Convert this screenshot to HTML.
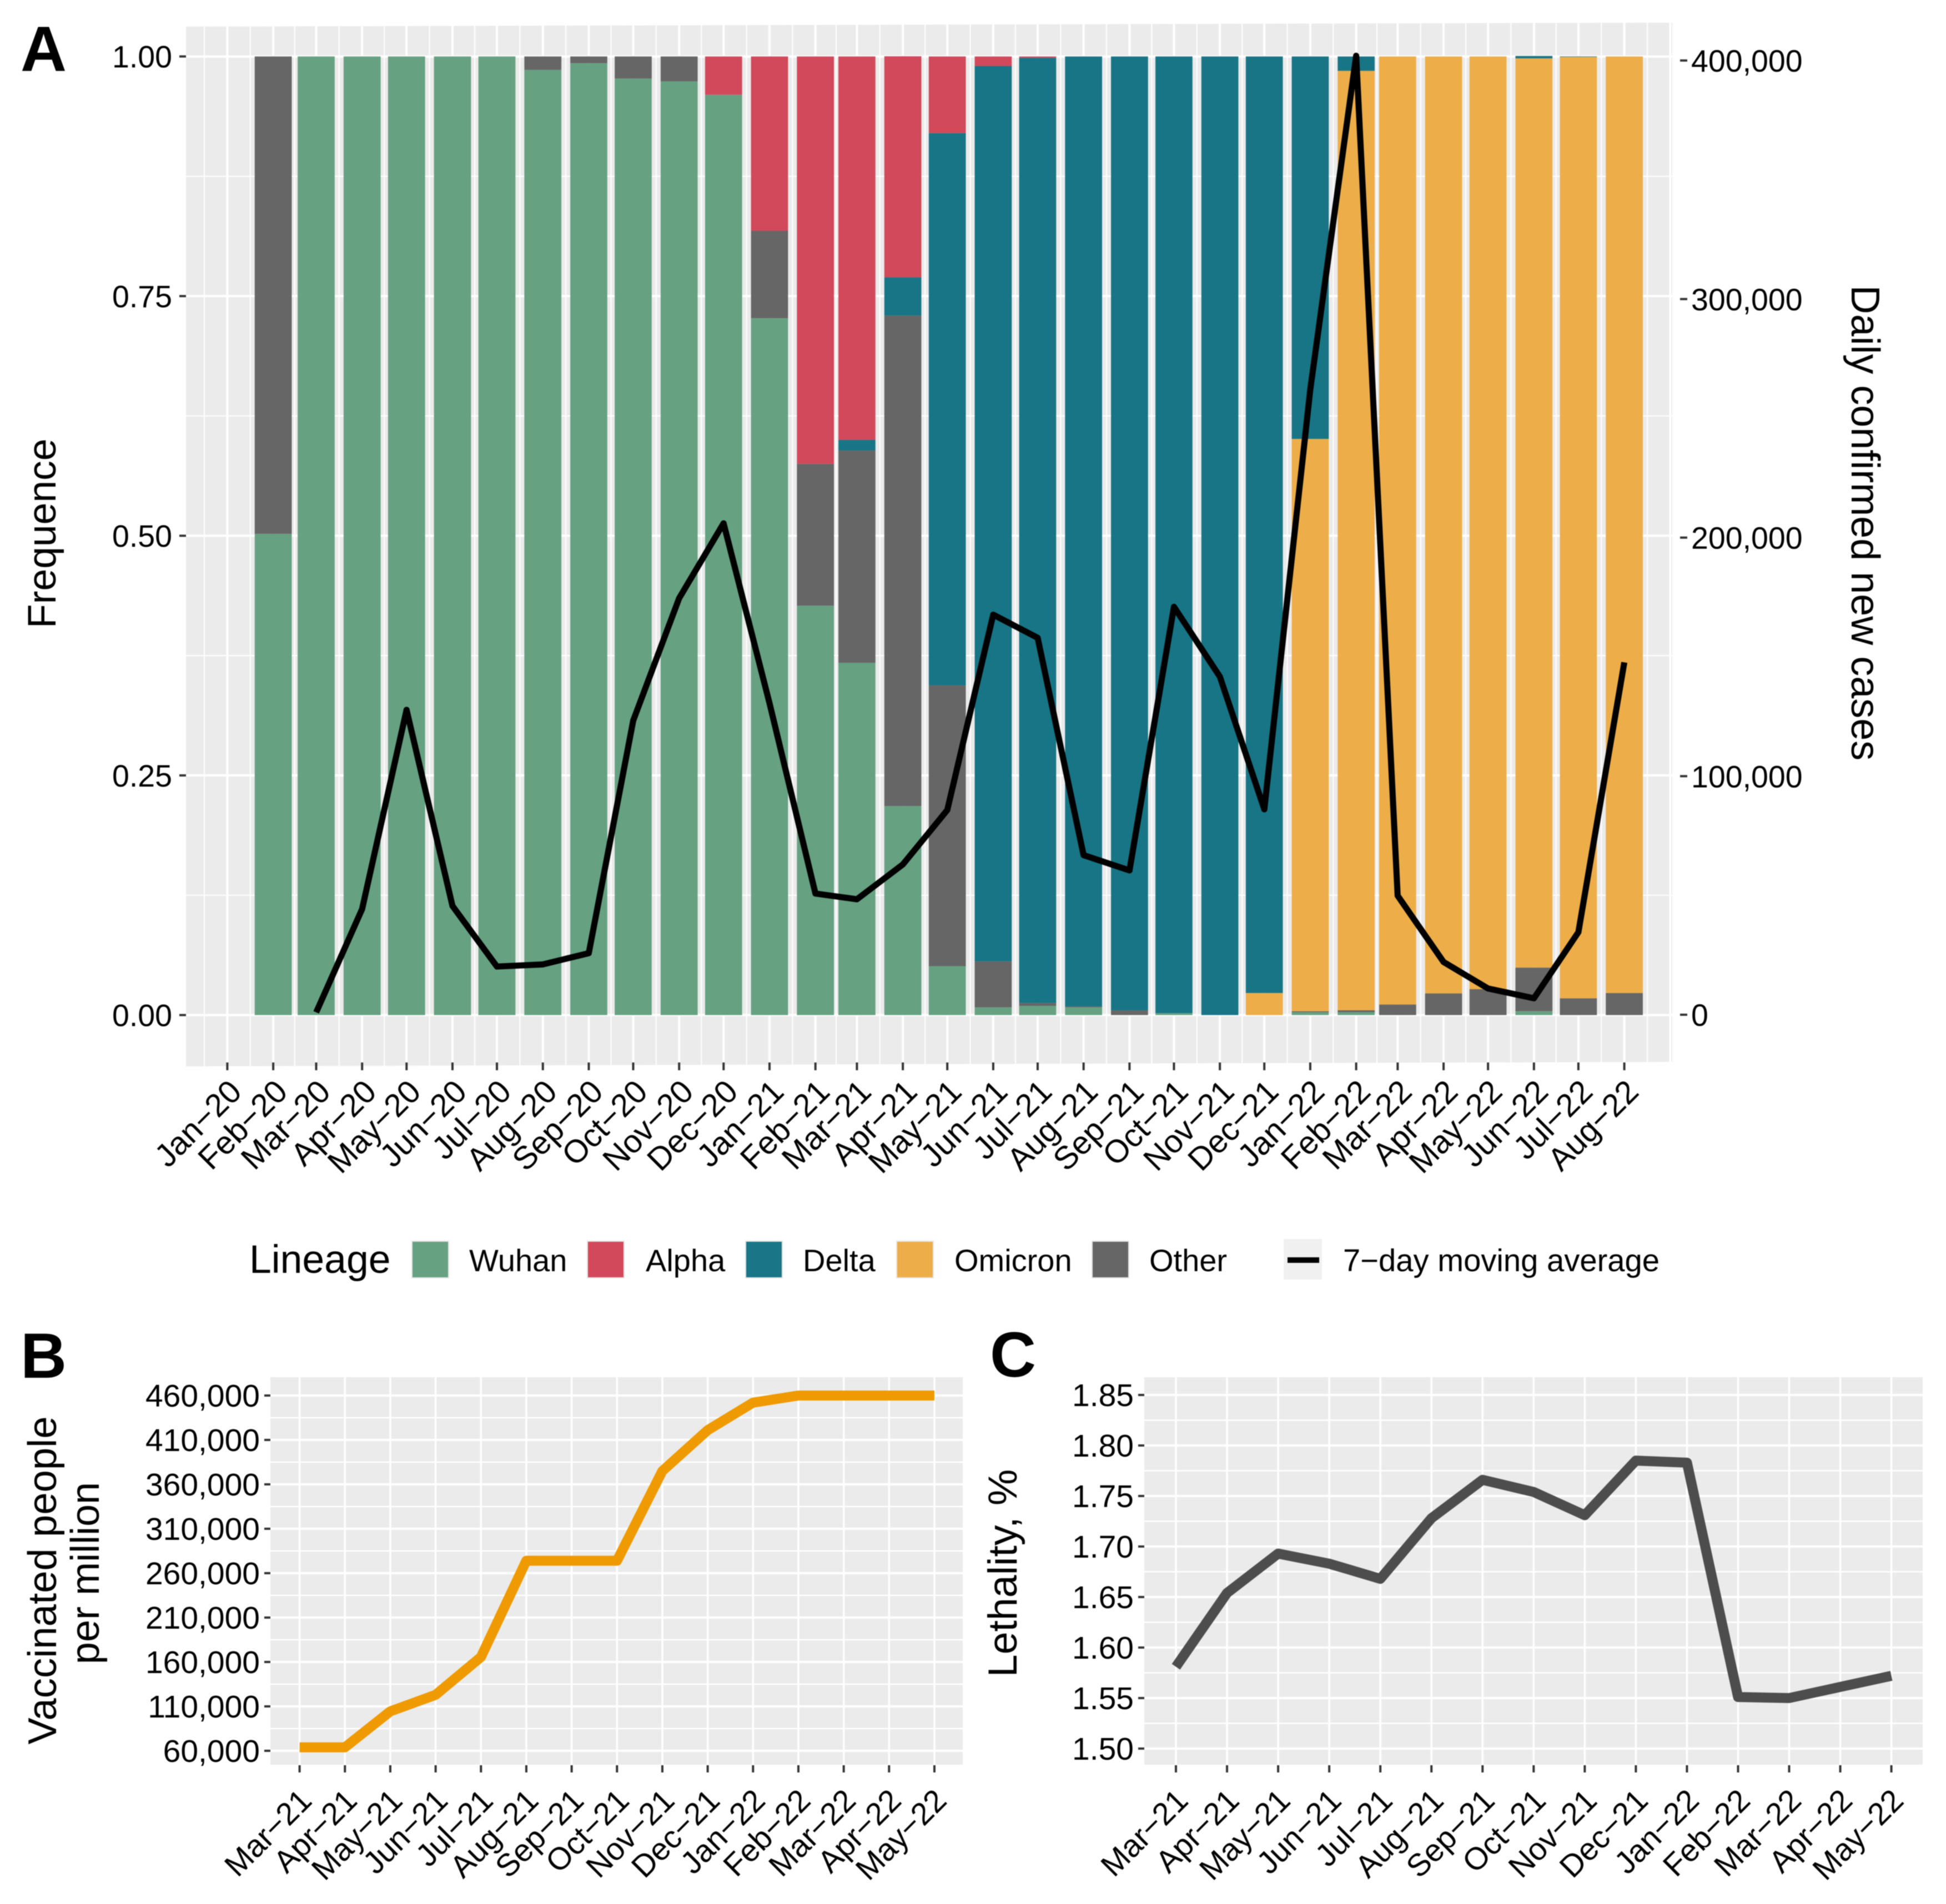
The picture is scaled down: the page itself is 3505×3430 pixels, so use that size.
<!DOCTYPE html>
<html lang="en">
<head>
<meta charset="utf-8">
<title>SARS-CoV-2 lineages, vaccination and lethality</title>
<style>
html,body{margin:0;padding:0;background:#fff;}
svg{display:block;filter:blur(0.8px);}
text{font-family:"Liberation Sans",sans-serif;fill:#000;}
</style>
</head>
<body>
<svg id="figure" xmlns="http://www.w3.org/2000/svg" width="3505" height="3430" viewBox="0 0 3505 3430">
<defs><clipPath id="clip-a"><polygon points="335,48 3012,40.7 3012,1913 335,1921"/></clipPath></defs>
<rect x="0" y="0" width="3505" height="3430" fill="#fff"/>
<polygon points="335,48 3012,40.7 3012,1913 335,1921" fill="#ebebeb"/>
<g id="grid-a" clip-path="url(#clip-a)"></g>
<g id="bars-a"></g>
<g id="line-a"></g>
<g id="axes-a"></g>
<text x="37" y="128" font-size="115" font-weight="bold">A</text>
<text x="37" y="2482" font-size="115" font-weight="bold">B</text>
<text x="1783" y="2480" font-size="115" font-weight="bold">C</text>
<text transform="translate(100,961) rotate(-90)" text-anchor="middle" font-size="71.5">Frequence</text>
<text transform="translate(3335,942) rotate(90)" text-anchor="middle" font-size="72">Daily confirmed new cases</text>
<g id="legend">
<text x="449" y="2293" font-size="71.5">Lineage</text>
<rect x="742" y="2236" width="66" height="66" fill="#66a182" stroke="#e6e6e6" stroke-width="2"/>
<text x="845" y="2290" font-size="56">Wuhan</text>
<rect x="1058" y="2236" width="66" height="66" fill="#d1495b" stroke="#e6e6e6" stroke-width="2"/>
<text x="1163" y="2290" font-size="56">Alpha</text>
<rect x="1343" y="2236" width="66" height="66" fill="#1a7586" stroke="#e6e6e6" stroke-width="2"/>
<text x="1446" y="2290" font-size="56">Delta</text>
<rect x="1615" y="2236" width="66" height="66" fill="#edae49" stroke="#e6e6e6" stroke-width="2"/>
<text x="1719" y="2290" font-size="56">Omicron</text>
<rect x="1967" y="2236" width="66" height="66" fill="#666666" stroke="#e6e6e6" stroke-width="2"/>
<text x="2070" y="2290" font-size="56">Other</text>
<rect x="2312" y="2232" width="69" height="73" fill="#f0f0f0"/>
<line x1="2319" x2="2376" y1="2270" y2="2270" stroke="#000" stroke-width="10"/>
<text x="2419" y="2290" font-size="56.2">7−day moving average</text>
</g>
<rect x="487" y="2481" width="1247" height="698" fill="#ebebeb"/>
<g id="grid-b"></g>
<g id="line-b"></g>
<g id="axes-b"></g>
<text transform="translate(101,2847) rotate(-90)" text-anchor="middle" font-size="72.5">Vaccinated people</text>
<text transform="translate(178,2834) rotate(-90)" text-anchor="middle" font-size="72">per million</text>
<rect x="2061" y="2481" width="1402" height="698" fill="#ebebeb"/>
<g id="grid-c"></g>
<g id="line-c"></g>
<g id="axes-c"></g>
<text transform="translate(1831,2834) rotate(-90)" text-anchor="middle" font-size="73.5">Lethality, %</text>
</svg>
<script>
// ---- Panel A data ----
const axisMonthsA = ['Jan-20','Feb-20','Mar-20','Apr-20','May-20','Jun-20','Jul-20','Aug-20','Sep-20','Oct-20','Nov-20','Dec-20','Jan-21','Feb-21','Mar-21','Apr-21','May-21','Jun-21','Jul-21','Aug-21','Sep-21','Oct-21','Nov-21','Dec-21','Jan-22','Feb-22','Mar-22','Apr-22','May-22','Jun-22','Jul-22','Aug-22'];
const barMonths = ['Feb-20','Mar-20','Apr-20','May-20','Jun-20','Jul-20','Aug-20','Sep-20','Oct-20','Nov-20','Dec-20','Jan-21','Feb-21','Mar-21','Apr-21','May-21','Jun-21','Jul-21','Aug-21','Sep-21','Oct-21','Nov-21','Dec-21','Jan-22','Feb-22','Mar-22','Apr-22','May-22','Jun-22','Jul-22','Aug-22'];
const wuhan = [.502,1,1,1,1,1,.986,.993,.977,.974,.96,.727,.427,.3675,.218,.051,.008,.0096,.008,0,.002,0,0,.003,.003,0,0,0,.004,0,0];
const other = [.498,0,0,0,0,0,.014,.007,.023,.026,0,.091,.148,.2215,.5116,.293,.048,.003,.001,.005,0,0,0,.001,.002,.011,.0226,.027,.0455,.0175,.023];
const omicron = [0,0,0,0,0,0,0,0,0,0,0,0,0,0,0,0,0,0,0,0,0,0,.023,.597,.98,.989,.9774,.973,.9485,.982,.977];
const delta = [0,0,0,0,0,0,0,0,0,0,0,0,0,.011,.04,.576,.934,.986,.991,.995,.998,1,.977,.399,.015,0,0,0,.0025,.0005,0];
const alpha = [0,0,0,0,0,0,0,0,0,0,.04,.182,.425,.4,.2306,.08,.01,.0014,0,0,0,0,0,0,0,0,0,0,0,0,0];
const caseMonths = ['Mar-20','Apr-20','May-20','Jun-20','Jul-20','Aug-20','Sep-20','Oct-20','Nov-20','Dec-20','Jan-21','Feb-21','Mar-21','Apr-21','May-21','Jun-21','Jul-21','Aug-21','Sep-21','Oct-21','Nov-21','Dec-21','Jan-22','Feb-22','Mar-22','Apr-22','May-22','Jun-22','Jul-22','Aug-22'];
const dailyCases = [1000,44300,127800,45600,20200,21100,25800,123300,174600,206000,130600,50800,48400,63000,85800,167700,158000,66900,60500,171000,141700,86100,262000,402000,49900,22100,11000,6900,34600,147700];
const freqTicks = [0,0.25,0.5,0.75,1];
const freqTickLabels = ['0.00','0.25','0.50','0.75','1.00'];
const caseTicks = [0,100000,200000,300000,400000];
const caseTickLabels = ['0','100,000','200,000','300,000','400,000'];

// ---- Panel B data ----
const monthsBC = ['Mar-21','Apr-21','May-21','Jun-21','Jul-21','Aug-21','Sep-21','Oct-21','Nov-21','Dec-21','Jan-22','Feb-22','Mar-22','Apr-22','May-22'];
const vaccinated = [63900,63900,104400,123000,165600,274000,274000,274000,375000,421000,452000,460000,460000,460000,460000];
const vaccTicks = [60000,110000,160000,210000,260000,310000,360000,410000,460000];
const vaccTickLabels = ['60,000','110,000','160,000','210,000','260,000','310,000','360,000','410,000','460,000'];

// ---- Panel C data ----
const lethality = [1.581,1.654,1.693,1.683,1.668,1.728,1.766,1.754,1.731,1.785,1.783,1.551,1.55,1.561,1.572];
const lethTicks = [1.5,1.55,1.6,1.65,1.7,1.75,1.8,1.85];
const lethTickLabels = ['1.50','1.55','1.60','1.65','1.70','1.75','1.80','1.85'];

// ---- Helpers ----
const NS = 'http://www.w3.org/2000/svg';
const MON = {Jan:0,Feb:1,Mar:2,Apr:3,May:4,Jun:5,Jul:6,Aug:7,Sep:8,Oct:9,Nov:10,Dec:11};
function dayOf(label){
  const p = label.split('-');
  return Date.UTC(2000 + Number(p[1]), MON[p[0]], 1) / 86400000;
}
function linear(d0, d1, r0, r1){
  return function(v){ return r0 + (v - d0) * (r1 - r0) / (d1 - d0); };
}
function make(parentId, tag, props){
  const el = document.createElementNS(NS, tag);
  for (const k in props) el.setAttribute(k, props[k]);
  document.getElementById(parentId).appendChild(el);
  return el;
}
function pretty(m){ return m.replace('-', '\u2212'); }

// ---- Panel A scales ----
const xA = linear(dayOf('Jan-20'), dayOf('Aug-22'), 409.4, 2925.6);
const yFreq = linear(0, 1, 1828.6, 101.7);
const yCases = linear(0, 400000, 1828, 109);
const barWidthDays = 25;

// Panel A grid
freqTicks.forEach(function(t, i){
  const y = yFreq(t);
  const major = make('grid-a', 'line', {x1:335, x2:3012, y1:y, y2:y, stroke:'#fff', 'stroke-width':4});
  
  
  if (i < freqTicks.length - 1) {
    const ym = yFreq((t + freqTicks[i + 1]) / 2);
    const minor = make('grid-a', 'line', {x1:335, x2:3012, y1:ym, y2:ym, stroke:'#fff', 'stroke-width':2});
    
    
  }
});
axisMonthsA.concat(['Sep-22']).forEach(function(m, i, all){
  const d = dayOf(m);
  const major = make('grid-a', 'line', {x1:xA(d), x2:xA(d), y1:30, y2:1930, stroke:'#fff', 'stroke-width':4});
  
  
  const prev = i > 0 ? dayOf(all[i - 1]) : d - 31;
  const xm = xA((d + prev) / 2);
  const minor = make('grid-a', 'line', {x1:xm, x2:xm, y1:30, y2:1930, stroke:'#fff', 'stroke-width':2});
  
  
});

// Panel A stacked bars (bottom to top)
const stackOrder = [
  {key:'wuhan', values:wuhan, color:'#66a182'},
  {key:'other', values:other, color:'#666666'},
  {key:'omicron', values:omicron, color:'#edae49'},
  {key:'delta', values:delta, color:'#187586'},
  {key:'alpha', values:alpha, color:'#d1495b'}
];
barMonths.forEach(function(m, i){
  const d = dayOf(m);
  const x0 = xA(d - barWidthDays / 2);
  const x1 = xA(d + barWidthDays / 2);
  let cum = 0;
  stackOrder.forEach(function(s){
    const v = s.values[i];
    if (v > 0) {
      const yTop = yFreq(cum + v);
      const yBot = yFreq(cum);
      const bar = make('bars-a', 'rect', {x:x0, y:yTop, width:x1 - x0, height:yBot - yTop, fill:s.color});
      
      
    }
    cum += v;
  });
});

// Panel A line
const casePoints = caseMonths.map(function(m, i){
  return xA(dayOf(m)) + ',' + yCases(dailyCases[i]);
}).join(' ');
const caseLine = make('line-a', 'polyline', {points:casePoints, fill:'none', stroke:'#000', 'stroke-width':11, 'stroke-linejoin':'round'});



// Shared axis drawing
function xAxis(group, items, xf, tickTop, tickBottom, labelY, labelDx, fontSize, prefix){
  items.forEach(function(item){
    const x = xf(item.pos);
    const tick = make(group, 'line', {x1:x, x2:x, y1:tickTop, y2:tickBottom, stroke:'#333', 'stroke-width':4});
    
    
    const lbl = make(group, 'text', {transform:'translate(' + (x + labelDx) + ',' + labelY + ') rotate(-45)', 'text-anchor':'end', 'font-size':fontSize});
    lbl.textContent = pretty(item.month);
    
    
  });
}
function yAxisLeft(group, ticks, labels, yf, tickX0, tickX1, labelX, fontSize, prefix){
  ticks.forEach(function(t, i){
    const y = yf(t);
    const tick = make(group, 'line', {x1:tickX0, x2:tickX1, y1:y, y2:y, stroke:'#333', 'stroke-width':4});
    
    
    const lbl = make(group, 'text', {x:labelX, y:y + 20, 'text-anchor':'end', 'font-size':fontSize});
    lbl.textContent = labels[i];
    
    
  });
}

// Panel A axes
xAxis('axes-a', axisMonthsA.map(function(m){ return {month:m, pos:dayOf(m)}; }), xA, 1914, 1928, 1970, 29, 58, 'panel-a');
yAxisLeft('axes-a', freqTicks, freqTickLabels, yFreq, 323, 335, 310, 55.5, 'panel-a');
caseTicks.forEach(function(t, i){
  const y = yCases(t);
  const tick = make('axes-a', 'line', {x1:3026, x2:3039, y1:y, y2:y, stroke:'#333', 'stroke-width':4});
  
  
  const lbl = make('axes-a', 'text', {x:3046, y:y + 20, 'font-size':55.5});
  lbl.textContent = caseTickLabels[i];
  
  
});

// Panels B and C (months evenly spaced on these axes)
function linePanel(cfg){
  const xf = linear(0, monthsBC.length - 1, cfg.x0, cfg.x1);
  const ticks = cfg.ticks;
  ticks.forEach(function(t, i){
    const y = cfg.yf(t);
    const major = make(cfg.grid, 'line', {x1:cfg.left, x2:cfg.right, y1:y, y2:y, stroke:'#fff', 'stroke-width':4});
    
    
    if (i < ticks.length - 1) {
      const ym = cfg.yf((t + ticks[i + 1]) / 2);
      const minor = make(cfg.grid, 'line', {x1:cfg.left, x2:cfg.right, y1:ym, y2:ym, stroke:'#fff', 'stroke-width':2.5});
      
      
    }
  });
  monthsBC.forEach(function(m, i){
    const x = xf(i);
    const major = make(cfg.grid, 'line', {x1:x, x2:x, y1:2481, y2:3179, stroke:'#fff', 'stroke-width':3.5});
    
    
  });
  const pts = monthsBC.map(function(m, i){
    return xf(i) + ',' + cfg.yf(cfg.values[i]);
  }).join(' ');
  const series = make(cfg.line, 'polyline', {points:pts, fill:'none', stroke:cfg.color, 'stroke-width':18, 'stroke-linejoin':'round'});
  
  
  xAxis(cfg.axes, monthsBC.map(function(m, i){ return {month:m, pos:i}; }), xf, 3180, 3193, 3247, 25, 56.5, cfg.prefix);
  yAxisLeft(cfg.axes, ticks, cfg.labels, cfg.yf, cfg.left - 11, cfg.left, cfg.left - 19, 57, cfg.prefix);
}
linePanel({grid:'grid-b', line:'line-b', axes:'axes-b', prefix:'panel-b', name:'vaccinated-line',
  left:487, right:1734, x0:539.6, x1:1683, yf:linear(60000, 460000, 3154, 2514),
  ticks:vaccTicks, labels:vaccTickLabels, values:vaccinated, color:'#ee9a00'});
linePanel({grid:'grid-c', line:'line-c', axes:'axes-c', prefix:'panel-c', name:'lethality-line',
  left:2061, right:3463, x0:2118, x1:3406.6, yf:linear(1.5, 1.85, 3150, 2513),
  ticks:lethTicks, labels:lethTickLabels, values:lethality, color:'#4d4d4d'});
</script>
</body>
</html>
